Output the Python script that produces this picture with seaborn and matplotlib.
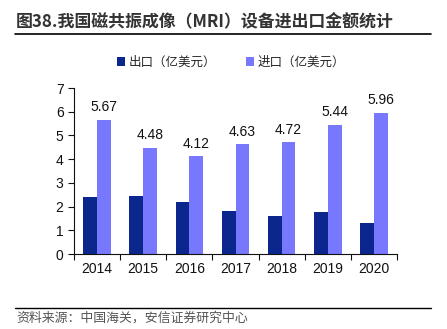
import matplotlib
matplotlib.use("Agg")
import matplotlib.pyplot as plt
import seaborn as sns
import pandas as pd
from matplotlib.patches import Patch
from matplotlib.lines import Line2D

years = ["2014", "2015", "2016", "2017", "2018", "2019", "2020"]
export_vals = [2.40, 2.46, 2.19, 1.83, 1.59, 1.79, 1.32]
import_vals = [5.67, 4.48, 4.12, 4.63, 4.72, 5.44, 5.96]
series_names = ["出口（亿美元）", "进口（亿美元）"]
colors = ["#0B268C", "#7878FF"]

sns.set_theme(style="white")
plt.rcParams['font.family'] = ['Liberation Sans', 'Noto Sans CJK SC', 'DejaVu Sans']

df = pd.DataFrame({
    "year": years * 2,
    "value": export_vals + import_vals,
    "series": [series_names[0]] * len(years) + [series_names[1]] * len(years),
})

fig = plt.figure(figsize=(4.47, 3.29), dpi=100)
ax = fig.add_axes([74/447, 1 - 254/329, (397-74)/447, (254-88)/329])

sns.barplot(data=df, x="year", y="value", hue="series", palette=colors,
            width=0.6, ax=ax, legend=False, saturation=1, edgecolor="none")

for cont_i, cont in enumerate(ax.containers):
    if cont_i == 1:
        ax.bar_label(cont, labels=[f"{v:.2f}" for v in import_vals], padding=4,
                     fontsize=10, color="#111111")

ax.set_ylim(0, 7)
ax.set_xlim(-0.5, 6.5)
ax.set_yticks(range(0, 8))
ax.set_xlabel("")
ax.set_ylabel("")
ax.tick_params(axis="y", labelsize=10, length=4, width=0.8, direction="out", left=True, colors="#111111")
ax.tick_params(axis="x", which="major", labelsize=10, length=0, pad=6, colors="#111111")
ax.set_xticks([i + 0.5 for i in range(-1, 7)], minor=True)
ax.tick_params(axis="x", which="minor", length=4, width=0.8, direction="out", bottom=True, color="#111111")
for s in ["top", "right"]:
    ax.spines[s].set_visible(False)
for s in ["left", "bottom"]:
    ax.spines[s].set_color("#111111")
    ax.spines[s].set_linewidth(0.8)

# title
fig.text(16/447, 1 - 22/329, "图38.我国磁共振成像（MRI）设备进出口金额统计",
         fontsize=12.2, fontweight="bold", color="#333333", va="center",
         family=['Noto Sans CJK SC', 'DejaVu Sans'])
fig.add_artist(Line2D([15/447, 431/447], [1 - 34/329, 1 - 34/329], color="black", lw=1.2))

# legend
handles = [Patch(facecolor=c, edgecolor="none") for c in colors]
fig.legend(handles, series_names, loc="center", bbox_to_anchor=(231/447, 1 - 62/329),
           ncol=2, frameon=False, handlelength=0.6, handleheight=0.7,
           handletextpad=0.3, columnspacing=2.4,
           prop={'family': ['Noto Sans CJK SC', 'DejaVu Sans'], 'size': 9})

# source
fig.add_artist(Line2D([15/447, 431/447], [1 - 308/329, 1 - 308/329], color="black", lw=1.0))
fig.text(16/447, 1 - 318/329, "资料来源：中国海关，安信证券研究中心", fontsize=9.3,
         style="italic", color="#555555", va="center",
         family=['Noto Sans CJK SC', 'DejaVu Sans'])

fig.savefig("out.png", dpi=100)
